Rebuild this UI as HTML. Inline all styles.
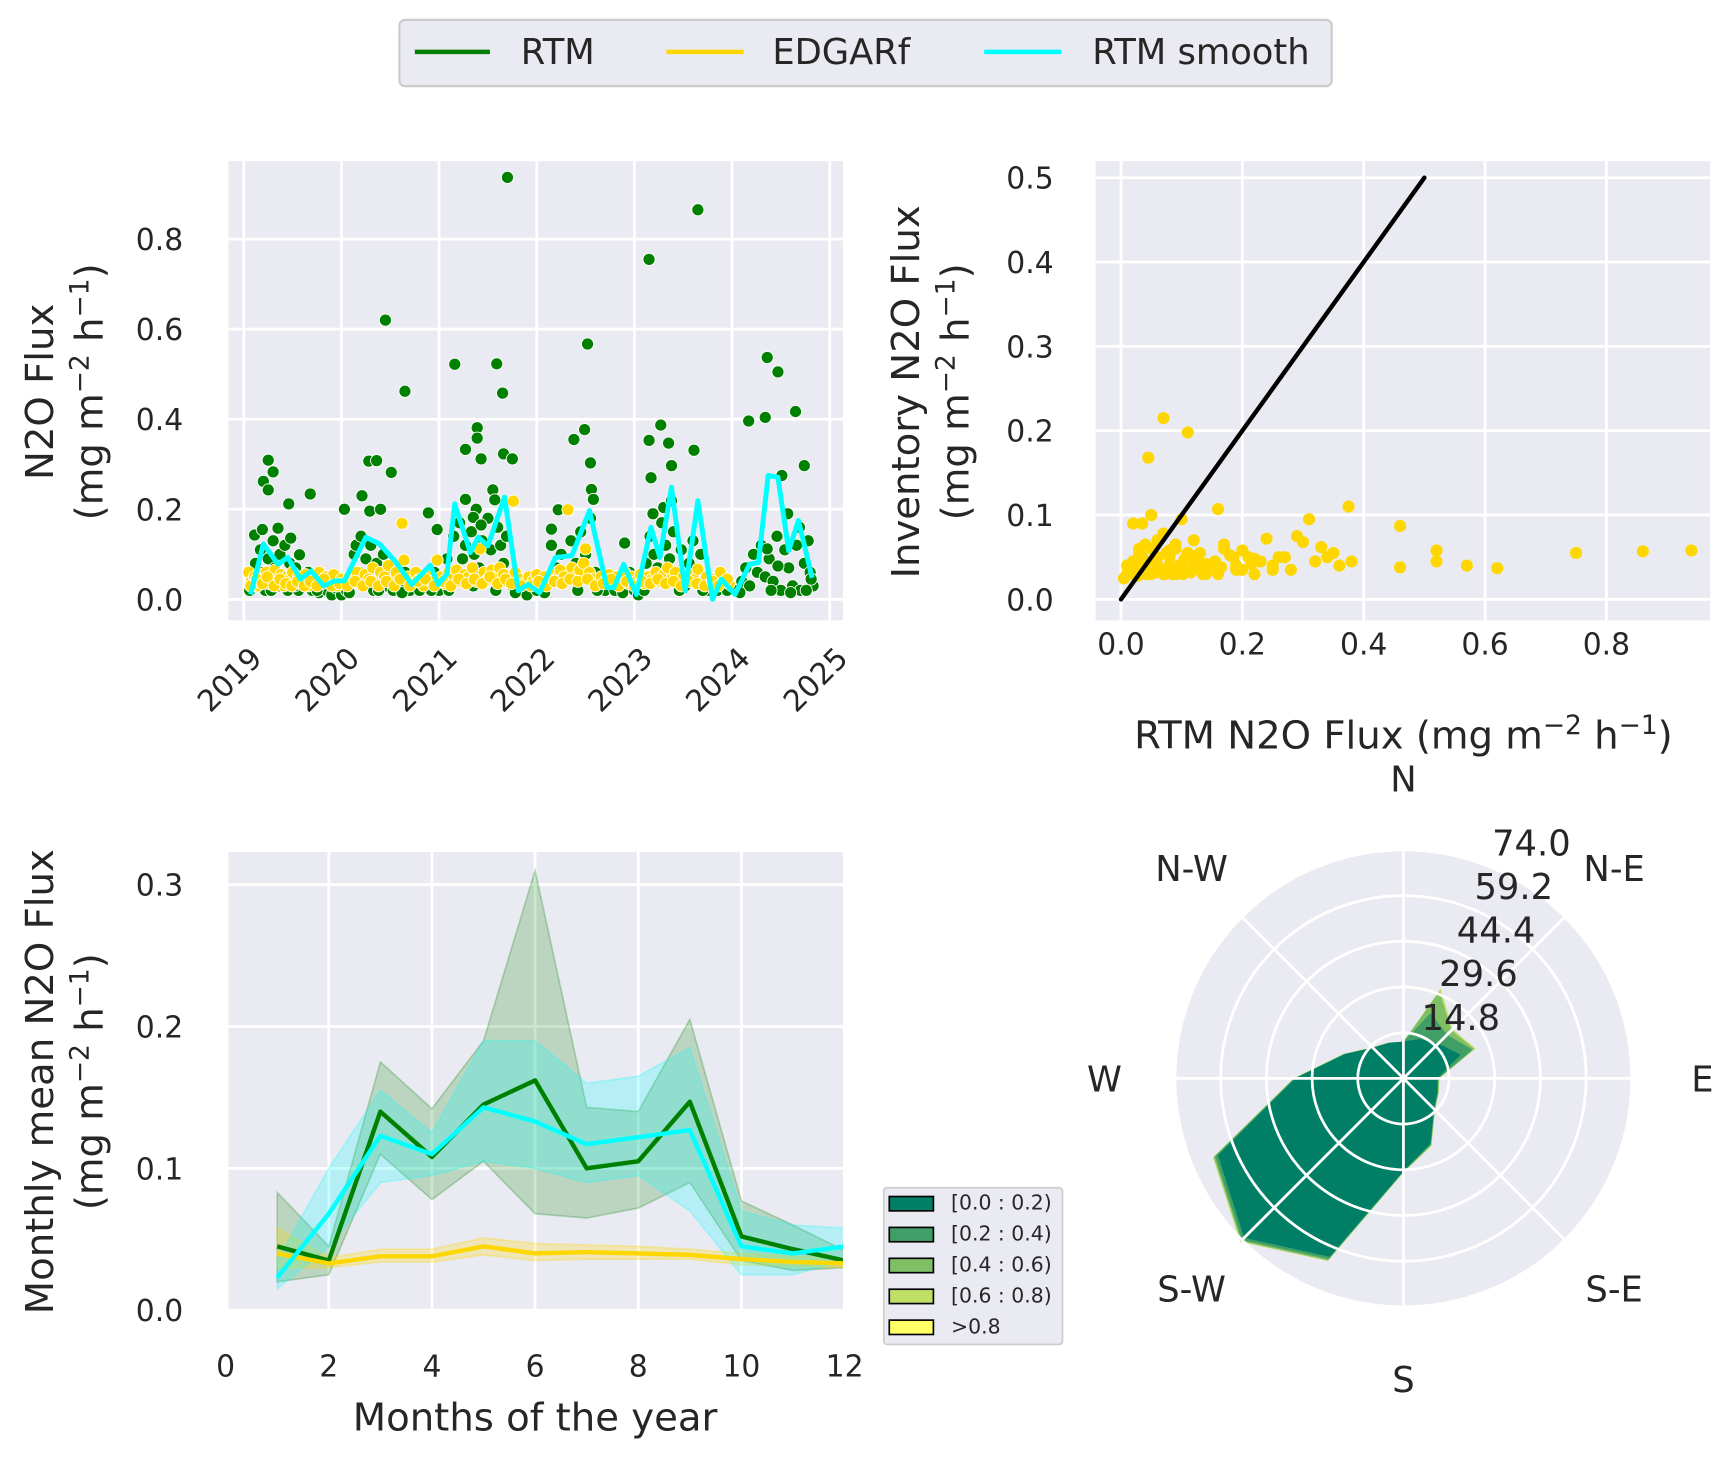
<!DOCTYPE html>
<html><head><meta charset="utf-8"><style>
html,body{margin:0;padding:0;background:#fff}
svg{display:block}
text{font-family:"DejaVu Sans","Liberation Sans",sans-serif;fill:#262626}
</style></head><body>
<svg id="fig" width="1730" height="1457" viewBox="0 0 1568 1320" preserveAspectRatio="none" xmlns="http://www.w3.org/2000/svg">
<defs>
<clipPath id="c1"><rect x="207" y="146" width="557" height="416"/></clipPath>
<clipPath id="c2"><rect x="993" y="146" width="557" height="416"/></clipPath>
<clipPath id="c3"><rect x="207" y="772" width="557" height="415"/></clipPath>
</defs>
<g>
<rect x="362" y="18" width="845" height="60" rx="5" fill="#eaeaf2" stroke="#cccccc" stroke-width="2"/>
<line x1="376" y1="47" x2="444" y2="47" stroke="#008000" stroke-width="4"/>
<text x="472" y="58" font-size="32">RTM</text>
<line x1="604" y1="47" x2="674" y2="47" stroke="#ffd700" stroke-width="4"/>
<text x="700" y="58" font-size="32">EDGARf</text>
<line x1="892" y1="47" x2="962" y2="47" stroke="#00ffff" stroke-width="4"/>
<text x="990" y="58" font-size="32">RTM smooth</text>
</g>
<g id="p1"></g>
<g id="p2"></g>
<g id="p3"></g>
<g id="p4"></g>
</svg>
<script>
// ---------- data: time series ----------
const greenHigh = [[2021.70,0.937],[2023.65,0.865],[2023.15,0.755],[2020.45,0.62],[2022.52,0.567],[2021.16,0.522],[2021.59,0.523],[2021.65,0.458],[2020.65,0.462],[2024.36,0.537],[2024.47,0.505],[2024.65,0.417],[2024.17,0.396],[2024.34,0.404],[2023.27,0.387],[2023.15,0.353],[2023.35,0.347],[2023.61,0.331],[2023.38,0.297],[2023.17,0.27],[2024.74,0.297],[2024.51,0.275],[2021.39,0.381],[2021.39,0.358],[2021.27,0.333],[2021.43,0.312],[2021.66,0.323],[2021.75,0.312],[2022.49,0.377],[2022.38,0.355],[2022.55,0.303],[2022.56,0.244],[2022.58,0.222],[2019.25,0.309],[2019.30,0.283],[2019.20,0.262],[2019.25,0.243],[2019.46,0.212],[2019.68,0.234],[2020.28,0.307],[2020.36,0.308],[2020.51,0.282],[2020.21,0.23],[2020.03,0.2],[2020.29,0.196],[2020.40,0.2],[2020.89,0.192],[2020.98,0.155],[2021.27,0.222],[2021.55,0.243],[2021.57,0.221],[2021.35,0.182],[2021.43,0.165],[2022.22,0.199],[2022.15,0.156],[2022.9,0.125],[2023.19,0.19],[2023.30,0.204],[2023.38,0.219],[2024.36,0.112],[2024.47,0.074],[2024.57,0.19],[2024.69,0.16],[2024.81,0.045],[2019.11,0.143],[2019.19,0.155],[2019.35,0.158],[2019.48,0.136],[2019.57,0.099]];
const greenLow = [[2019.06,.02],[2019.09,.05],[2019.12,.08],[2019.14,.03],[2019.17,.11],[2019.2,.06],[2019.22,.02],[2019.25,.09],[2019.27,.04],[2019.3,.13],[2019.32,.07],[2019.35,.03],[2019.37,.1],[2019.4,.05],[2019.42,.12],[2019.45,.02],[2019.47,.08],[2019.5,.04],[2019.53,.07],[2019.56,.02],[2019.6,.05],[2019.63,.03],[2019.66,.06],[2019.7,.02],[2019.73,.04],[2019.77,.015],[2019.8,.03],[2019.85,.02],[2019.9,.01],[2019.95,.025],[2020.0,.01],[2020.05,.02],[2020.1,.04],[2020.13,.1],[2020.15,.12],[2020.18,.06],[2020.2,.14],[2020.22,.03],[2020.25,.09],[2020.28,.05],[2020.3,.12],[2020.33,.02],[2020.36,.08],[2020.4,.04],[2020.43,.1],[2020.46,.03],[2020.5,.07],[2020.53,.02],[2020.56,.05],[2020.6,.03],[2020.65,.06],[2020.7,.02],[2020.75,.04],[2020.8,.02],[2020.85,.05],[2020.9,.03],[2020.95,.06],[2021.0,.02],[2021.04,.05],[2021.08,.09],[2021.12,.03],[2021.15,.14],[2021.18,.06],[2021.21,.17],[2021.24,.09],[2021.27,.12],[2021.3,.05],[2021.33,.15],[2021.36,.1],[2021.38,.2],[2021.41,.07],[2021.44,.13],[2021.47,.04],[2021.5,.18],[2021.53,.11],[2021.56,.06],[2021.6,.16],[2021.63,.12],[2021.66,.08],[2021.69,.14],[2021.72,.05],[2021.75,.03],[2021.8,.02],[2021.85,.04],[2021.9,.01],[2021.95,.03],[2022.0,.02],[2022.05,.04],[2022.1,.03],[2022.15,.12],[2022.2,.07],[2022.25,.1],[2022.3,.06],[2022.35,.13],[2022.4,.08],[2022.45,.15],[2022.5,.1],[2022.55,.18],[2022.6,.06],[2022.65,.03],[2022.7,.02],[2022.75,.04],[2022.8,.02],[2022.85,.05],[2022.9,.03],[2022.95,.06],[2023.0,.02],[2023.04,.01],[2023.08,.05],[2023.12,.08],[2023.16,.14],[2023.2,.1],[2023.24,.07],[2023.28,.17],[2023.32,.12],[2023.36,.09],[2023.4,.15],[2023.44,.05],[2023.48,.11],[2023.52,.03],[2023.56,.08],[2023.6,.13],[2023.64,.06],[2023.68,.1],[2023.72,.04],[2023.76,.02],[2023.8,.03],[2023.85,.02],[2023.9,.04],[2023.95,.02],[2024.0,.03],[2024.05,.02],[2024.1,.04],[2024.14,.07],[2024.18,.03],[2024.22,.1],[2024.26,.06],[2024.3,.12],[2024.34,.05],[2024.38,.09],[2024.42,.04],[2024.46,.14],[2024.5,.02],[2024.54,.11],[2024.58,.07],[2024.62,.03],[2024.66,.12],[2024.7,.02],[2024.74,.08],[2024.78,.13],[2024.8,.06],[2024.83,.03],[2019.1,.03],[2019.28,.02],[2019.52,.03],[2019.75,.02],[2020.08,.015],[2020.38,.02],[2020.62,.015],[2020.92,.02],[2021.1,.02],[2021.35,.03],[2021.58,.02],[2021.78,.015],[2022.08,.015],[2022.42,.02],[2022.62,.02],[2022.88,.015],[2023.1,.02],[2023.46,.02],[2023.7,.02],[2024.08,.015],[2024.4,.02],[2024.6,.015],[2024.76,.02]];
const yellowPts = [[2019.05,.06],[2019.08,.04],[2019.11,.05],[2019.14,.03],[2019.17,.055],[2019.2,.045],[2019.23,.06],[2019.26,.035],[2019.29,.05],[2019.32,.065],[2019.35,.04],[2019.38,.055],[2019.41,.03],[2019.44,.05],[2019.47,.045],[2019.5,.06],[2019.53,.035],[2019.56,.05],[2019.6,.04],[2019.63,.055],[2019.66,.03],[2019.7,.05],[2019.73,.045],[2019.77,.06],[2019.8,.035],[2019.84,.05],[2019.88,.04],[2019.92,.055],[2019.96,.03],[2020.0,.045],[2020.04,.035],[2020.08,.05],[2020.12,.04],[2020.16,.06],[2020.2,.035],[2020.24,.055],[2020.28,.045],[2020.32,.07],[2020.36,.04],[2020.4,.06],[2020.44,.05],[2020.48,.075],[2020.52,.04],[2020.56,.06],[2020.62,.169],[2020.64,.087],[2020.68,.05],[2020.72,.035],[2020.76,.06],[2020.8,.045],[2020.84,.03],[2020.88,.055],[2020.92,.04],[2020.98,.087],[2021.02,.05],[2021.06,.035],[2021.1,.06],[2021.14,.045],[2021.18,.065],[2021.22,.04],[2021.26,.055],[2021.3,.05],[2021.34,.07],[2021.38,.04],[2021.42,.112],[2021.46,.06],[2021.5,.045],[2021.54,.065],[2021.58,.05],[2021.62,.07],[2021.66,.055],[2021.7,.04],[2021.76,.218],[2021.78,.06],[2021.82,.045],[2021.86,.035],[2021.92,.05],[2021.96,.04],[2022.0,.055],[2022.04,.035],[2022.08,.05],[2022.12,.04],[2022.16,.06],[2022.2,.045],[2022.24,.065],[2022.28,.05],[2022.32,.199],[2022.36,.07],[2022.4,.05],[2022.44,.065],[2022.48,.08],[2022.5,.112],[2022.54,.06],[2022.58,.045],[2022.62,.035],[2022.66,.05],[2022.7,.04],[2022.74,.055],[2022.78,.035],[2022.82,.05],[2022.86,.04],[2022.9,.06],[2022.94,.035],[2022.98,.05],[2023.02,.04],[2023.06,.055],[2023.1,.035],[2023.14,.05],[2023.18,.045],[2023.22,.06],[2023.26,.04],[2023.3,.055],[2023.34,.07],[2023.38,.045],[2023.42,.06],[2023.46,.035],[2023.5,.05],[2023.54,.04],[2023.58,.055],[2023.62,.045],[2023.65,.067],[2023.7,.04],[2023.74,.05],[2023.78,.035],[2023.82,.045],[2023.88,.06],[2023.92,.04],[2023.97,.035],
[2019.07,.03],[2019.13,.045],[2019.19,.035],[2019.24,.05],[2019.31,.03],[2019.37,.045],[2019.43,.035],[2019.49,.03],[2019.55,.04],[2019.62,.03],[2019.68,.04],[2019.75,.03],[2019.82,.045],[2019.9,.03],[2019.98,.035],[2020.06,.03],[2020.14,.04],[2020.22,.03],[2020.3,.04],[2020.38,.03],[2020.46,.04],[2020.54,.03],[2020.6,.045],[2020.7,.03],[2020.78,.04],[2020.86,.045],[2020.95,.03],[2021.04,.04],[2021.12,.03],[2021.2,.045],[2021.28,.035],[2021.36,.045],[2021.44,.035],[2021.52,.05],[2021.6,.035],[2021.68,.045],[2021.74,.035],[2021.84,.03],[2021.94,.03],[2022.02,.04],[2022.1,.03],[2022.18,.04],[2022.26,.035],[2022.34,.045],[2022.42,.04],[2022.52,.045],[2022.6,.03],[2022.68,.035],[2022.76,.045],[2022.84,.03],[2022.92,.04],[2023.0,.03],[2023.08,.04],[2023.16,.035],[2023.24,.045],[2023.32,.035],[2023.4,.04],[2023.48,.03],[2023.56,.04],[2023.64,.035],[2023.72,.03],[2023.8,.04],[2023.86,.03],[2023.95,.045]];
const smoothT = [2019.07,2019.2,2019.35,2019.45,2019.58,2019.69,2019.82,2019.93,2020.03,2020.25,2020.39,2020.56,2020.72,2020.91,2020.99,2021.08,2021.16,2021.32,2021.4,2021.5,2021.67,2021.81,2021.91,2022.03,2022.19,2022.36,2022.54,2022.72,2022.79,2022.89,2023.02,2023.17,2023.26,2023.38,2023.52,2023.65,2023.8,2023.89,2024.03,2024.18,2024.27,2024.37,2024.47,2024.58,2024.68,2024.82];
const smoothV = [0.011,0.123,0.078,0.093,0.045,0.063,0.03,0.041,0.041,0.138,0.123,0.082,0.033,0.076,0.033,0.056,0.212,0.104,0.138,0.119,0.227,0.019,0.033,0.015,0.093,0.097,0.197,0.026,0.026,0.078,0.011,0.16,0.093,0.249,0.019,0.219,0.0,0.045,0.011,0.078,0.082,0.275,0.271,0.108,0.175,0.048];
const yearTicks = [2019,2020,2021,2022,2023,2024,2025];
const fluxTicks = [0.0,0.2,0.4,0.6,0.8];
// ---------- data: scatter ----------
const scX = [0.07,0.11,0.045,0.05,0.02,0.035,0.16,0.375,0.31,0.1,0.46,0.52,0.52,0.57,0.62,0.75,0.86,0.94,0.46,0.07,0.12,0.09,0.17,0.24,0.29,0.33,0.3,0.35,0.38,0.2,0.22,0.26,0.14,0.18,0.01,0.02,0.03,0.04,0.05,0.06,0.08,0.09,0.1,0.12,0.13,0.15,0.19,0.21,0.23,0.25,0.27,0.28,0.32,0.34,0.36,0.005,0.015,0.025,0.035,0.045,0.055,0.065,0.075,0.085,0.095,0.105,0.115,0.125,0.14,0.155,0.165,0.185,0.2,0.215,0.06,0.04,0.03,0.08,0.11,0.17,0.01,0.02,0.03,0.04,0.05,0.06,0.07,0.08,0.09,0.1,0.13,0.16,0.19,0.22,0.25,0.012,0.028,0.042,0.058,0.072,0.088,0.102,0.118,0.135];
const scY = [0.215,0.198,0.168,0.1,0.09,0.09,0.107,0.11,0.095,0.095,0.087,0.058,0.045,0.04,0.037,0.055,0.057,0.058,0.038,0.078,0.07,0.06,0.065,0.072,0.075,0.062,0.068,0.055,0.045,0.058,0.048,0.05,0.042,0.052,0.03,0.045,0.055,0.035,0.06,0.04,0.05,0.065,0.035,0.045,0.055,0.04,0.035,0.05,0.045,0.04,0.05,0.035,0.045,0.05,0.04,0.025,0.035,0.04,0.05,0.03,0.045,0.035,0.055,0.03,0.04,0.048,0.032,0.05,0.03,0.045,0.038,0.05,0.035,0.042,0.07,0.065,0.06,0.058,0.055,0.06,0.04,0.03,0.035,0.045,0.03,0.05,0.03,0.04,0.03,0.04,0.035,0.03,0.04,0.03,0.035,0.035,0.028,0.03,0.032,0.03,0.034,0.03,0.036,0.03];
const scXTicks = [0.0,0.2,0.4,0.6,0.8];
const scYTicks = [0.0,0.1,0.2,0.3,0.4,0.5];
// ---------- data: monthly ----------
const months = [1,2,3,4,5,6,7,8,9,10,11,12];
const rtmMean = [0.045,0.035,0.14,0.108,0.145,0.162,0.1,0.105,0.147,0.052,0.043,0.035];
const rtmLo = [0.02,0.025,0.11,0.078,0.105,0.068,0.065,0.072,0.09,0.035,0.028,0.03];
const rtmHi = [0.083,0.045,0.175,0.142,0.19,0.31,0.143,0.14,0.205,0.077,0.06,0.042];
const smMean = [0.023,0.068,0.123,0.11,0.143,0.133,0.117,0.122,0.127,0.045,0.04,0.045];
const smLo = [0.015,0.045,0.09,0.095,0.105,0.1,0.09,0.095,0.07,0.025,0.025,0.035];
const smHi = [0.035,0.1,0.155,0.125,0.19,0.19,0.16,0.165,0.185,0.07,0.06,0.058];
const edMean = [0.04,0.033,0.038,0.038,0.045,0.04,0.041,0.04,0.039,0.036,0.034,0.033];
const edLo = [0.03,0.03,0.034,0.034,0.039,0.035,0.036,0.036,0.036,0.032,0.031,0.03];
const edHi = [0.058,0.037,0.043,0.043,0.051,0.047,0.046,0.045,0.043,0.04,0.038,0.036];
const monthTicks = [0,2,4,6,8,10,12];
const monthlyYTicks = [0.0,0.1,0.2,0.3];
// ---------- data: wind rose ----------
const dirs = [0,22.5,45,67.5,90,112.5,135,157.5,180,202.5,225,247.5,270,292.5,315,337.5];
const rose1 = [11.9,13.8,16,20,11,11.9,14,22.9,30,62.5,73,65,35,20.5,14,12.4];
const rose2 = [11.9,22.9,20,24.2,11.3,12.1,14.2,23.2,30.2,63.3,74,66,35.3,20.7,14.1,12.5];
const rose3 = [11.9,30.5,22,24.8,11.5,12.3,14.4,23.5,30.4,63.8,74.5,66.5,35.5,20.8,14.2,12.5];
const rose4 = [11.9,31.5,22.5,25.3,11.7,12.4,14.5,23.7,30.5,64,74.8,66.8,35.6,20.9,14.2,12.6];
const roseTicks = [14.8,29.6,44.4,59.2,74.0];
const roseBins = ["[0.0 : 0.2)","[0.2 : 0.4)","[0.4 : 0.6)","[0.6 : 0.8)",">0.8"];
const roseColors = ["#007f66","#3f9f66","#7fbf66","#bfdf66","#ffff66"];
const compass = ["N","N-E","E","S-E","S","S-W","W","N-W"];

const NS="http://www.w3.org/2000/svg";
function mk(parent,tag,attrs,txt){const e=document.createElementNS(NS,tag);for(const k in attrs)e.setAttribute(k,attrs[k]);if(txt!==undefined)e.textContent=txt;parent.appendChild(e);return e;}
function sup(el,parts){parts.forEach(p=>{const t=document.createElementNS(NS,'tspan');t.textContent=p[0];if(p[1])t.setAttribute('dy',p[1]);if(p[2])t.setAttribute('font-size',p[2]);el.appendChild(t);});}
const unitParts=[['(mg m'],['−2',-13,24],[' h',13],['−1',-13,24],[')',13]];
const LF=35;
function unitLabel(parent,x,y){const t=mk(parent,'text',{x:x,y:y,'font-size':LF,'text-anchor':'middle',transform:`rotate(-90 ${x} ${y})`});


sup(t,unitParts);return t;}
const TF=27;

// ---------- panel 1 ----------
const p1=document.getElementById('p1');
const xTS=t=>221+(t-2019)*88.5, yTS=v=>543-v*408;
mk(p1,'rect',{x:207,y:146,width:557,height:416,fill:'#eaeaf2'});
yearTicks.forEach(y=>{mk(p1,'line',{x1:xTS(y),x2:xTS(y),y1:146,y2:562,stroke:'#fff','stroke-width':2.5});
const t=mk(p1,'text',{x:xTS(y)+18,y:598,'font-size':TF,'text-anchor':'end',transform:`rotate(-45 ${xTS(y)+18} 598)`},String(y));

});
fluxTicks.forEach(v=>{mk(p1,'line',{x1:207,x2:764,y1:yTS(v),y2:yTS(v),stroke:'#fff','stroke-width':2.5});
const t=mk(p1,'text',{x:166,y:yTS(v)+10,'font-size':TF,'text-anchor':'end'},v.toFixed(1));

});
const g1=mk(p1,'g',{'clip-path':'url(#c1)'});
greenLow.concat(greenHigh).forEach(p=>{const c=mk(g1,'circle',{cx:xTS(p[0]),cy:yTS(p[1]),r:5.5,fill:'#008000',stroke:'#fff','stroke-width':0.8});

});
yellowPts.forEach(p=>{const c=mk(g1,'circle',{cx:xTS(p[0]),cy:yTS(p[1]),r:5.5,fill:'#ffd700',stroke:'#fff','stroke-width':0.8});

});
const sm=mk(g1,'polyline',{points:smoothT.map((t,i)=>xTS(t)+','+yTS(smoothV[i])).join(' '),fill:'none',stroke:'#00ffff','stroke-width':4.5,'stroke-linejoin':'round'});


let t1=mk(p1,'text',{x:48,y:355,'font-size':LF,'text-anchor':'middle',transform:'rotate(-90 48 355)'},'N2O Flux');


unitLabel(p1,93,355);

// ---------- panel 2 ----------
const p2=document.getElementById('p2');
const xSc=v=>1016+v*550, ySc=v=>543-v*764;
mk(p2,'rect',{x:993,y:146,width:557,height:416,fill:'#eaeaf2'});
scXTicks.forEach(v=>{mk(p2,'line',{x1:xSc(v),x2:xSc(v),y1:146,y2:562,stroke:'#fff','stroke-width':2.5});
const t=mk(p2,'text',{x:xSc(v),y:593,'font-size':TF,'text-anchor':'middle'},v.toFixed(1));

});
scYTicks.forEach(v=>{mk(p2,'line',{x1:993,x2:1550,y1:ySc(v),y2:ySc(v),stroke:'#fff','stroke-width':2.5});
const t=mk(p2,'text',{x:955,y:ySc(v)+10,'font-size':TF,'text-anchor':'end'},v.toFixed(1));

});
const g2=mk(p2,'g',{'clip-path':'url(#c2)'});
scX.forEach((x,i)=>{const c=mk(g2,'circle',{cx:xSc(x),cy:ySc(scY[i]),r:5.5,fill:'#ffd700'});

});
const one=mk(g2,'line',{x1:xSc(0),y1:ySc(0),x2:xSc(0.5),y2:ySc(0.5),stroke:'#000','stroke-width':4,'stroke-linecap':'round'});


const xl=mk(p2,'text',{x:1272,y:678,'font-size':LF,'text-anchor':'middle'});


sup(xl,[['RTM N2O Flux ']].concat(unitParts));
let t2=mk(p2,'text',{x:833,y:355,'font-size':LF,'text-anchor':'middle',transform:'rotate(-90 833 355)'},'Inventory N2O Flux');


unitLabel(p2,878,355);

// ---------- panel 3 ----------
const p3=document.getElementById('p3');
const xM=m=>204.5+m*46.75, yM=v=>1187-v*1285;
mk(p3,'rect',{x:207,y:772,width:557,height:415,fill:'#eaeaf2'});
monthTicks.forEach(m=>{if(m>0)mk(p3,'line',{x1:xM(m),x2:xM(m),y1:772,y2:1187,stroke:'#fff','stroke-width':2.5});
const t=mk(p3,'text',{x:xM(m),y:1247,'font-size':TF,'text-anchor':'middle'},String(m));

});
monthlyYTicks.forEach(v=>{mk(p3,'line',{x1:207,x2:764,y1:yM(v),y2:yM(v),stroke:'#fff','stroke-width':2.5});
const t=mk(p3,'text',{x:166,y:yM(v)+10,'font-size':TF,'text-anchor':'end'},v.toFixed(1));

});
const g3=mk(p3,'g',{'clip-path':'url(#c3)'});
function band(lo,hi,fill,stroke,name){const pts=months.map((m,i)=>xM(m)+','+yM(hi[i])).concat(months.slice().reverse().map((m,j)=>{const i=months.length-1-j;return xM(m)+','+yM(lo[i]);}));
const b=mk(g3,'polygon',{points:pts.join(' '),fill:fill,stroke:stroke,'stroke-width':1.5});

}
function line(vals,col,name){const l=mk(g3,'polyline',{points:months.map((m,i)=>xM(m)+','+yM(vals[i])).join(' '),fill:'none',stroke:col,'stroke-width':4,'stroke-linejoin':'round'});

}
band(rtmLo,rtmHi,'rgba(0,128,0,0.2)','rgba(0,128,0,0.25)','rtm-ci-band');
band(edLo,edHi,'rgba(255,215,0,0.25)','rgba(255,215,0,0.3)','edgar-ci-band');
band(smLo,smHi,'rgba(0,255,255,0.22)','rgba(0,255,255,0.25)','smooth-ci-band');
line(rtmMean,'#008000','rtm-monthly-line');
line(edMean,'#ffd700','edgar-monthly-line');
line(smMean,'#00ffff','smooth-monthly-line');
let t3=mk(p3,'text',{x:485,y:1296,'font-size':LF,'text-anchor':'middle'},'Months of the year');


let t4=mk(p3,'text',{x:48,y:980,'font-size':LF,'text-anchor':'middle',transform:'rotate(-90 48 980)'},'Monthly mean N2O Flux');


unitLabel(p3,93,980);

// ---------- panel 4: wind rose ----------
const p4=document.getElementById('p4');
const CX=1272,CY=977,R=207,RMAX=74;
const rr=v=>v/RMAX*R;
mk(p4,'circle',{cx:CX,cy:CY,r:R,fill:'#eaeaf2'});
function pt(deg,v){const a=deg*Math.PI/180;return [CX+rr(v)*Math.sin(a),CY-rr(v)*Math.cos(a)];}
[rose4,rose3,rose2,rose1].forEach((arr,k)=>{const col=roseColors[3-k];
const pg=mk(p4,'polygon',{points:dirs.map((d,i)=>pt(d,arr[i]).join(',')).join(' '),fill:col});

});
roseTicks.forEach(v=>mk(p4,'circle',{cx:CX,cy:CY,r:rr(v),fill:'none',stroke:'#fff','stroke-width':2.5}));
[0,45,90,135].forEach(d=>{const a=pt(d,RMAX),b=pt(d+180,RMAX);mk(p4,'line',{x1:a[0],y1:a[1],x2:b[0],y2:b[1],stroke:'#fff','stroke-width':2.5});});
roseTicks.forEach((v,i)=>{const t=mk(p4,'text',{x:1324+i*16,y:933-i*39.5,'font-size':32,'text-anchor':'middle'},v.toFixed(1));

});
const cpos=[[1272,717],[1463,798],[1543,989],[1463,1179],[1272,1261],[1080,1179],[1001,989],[1080,798]];
compass.forEach((c,i)=>{const t=mk(p4,'text',{x:cpos[i][0],y:cpos[i][1],'font-size':32,'text-anchor':'middle'},c);

});
const lg=mk(p4,'g',{});


mk(lg,'rect',{x:801,y:1076,width:162,height:142,rx:3,fill:'#eaeaf2',stroke:'#cccccc','stroke-width':1.5});
roseBins.forEach((b,i)=>{const y=1090+i*28;mk(lg,'rect',{x:806,y:y-6,width:40,height:13,fill:roseColors[i],stroke:'#000','stroke-width':1.5});
const t=mk(lg,'text',{x:862,y:y+6,'font-size':18.5},b);

});
</script>
</body></html>
